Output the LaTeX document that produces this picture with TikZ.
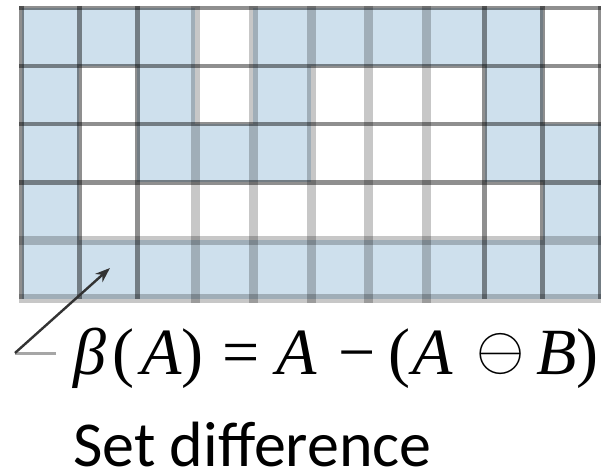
\documentclass[tikz,border=0pt]{standalone}
\usepackage{fontspec}
\usepackage{graphicx}
\usetikzlibrary{arrows.meta}
\newfontfamily\serifit{Liberation Serif}
\newfontfamily\calib{Carlito}
\definecolor{cellblue}{RGB}{206,224,237}
\begin{document}
\begin{tikzpicture}[x=1pt,y=-1pt,
  darkline/.style={line width=4.5pt, draw=black, draw opacity=0.44},
  lightline/.style={line width=9pt, draw=black, draw opacity=0.22},
  bluecell/.style={fill=cellblue},
  leader/.style={line width=2.4pt, draw=black!80},
  foot/.style={line width=3pt, draw=black!35}]
\useasboundingbox (0,0) rectangle (601,473);
\fill[white] (0,0) rectangle (601,473);
% blue cells (row / columns)
\foreach \r/\cols in {0/{0,1,2,4,5,6,7,8},1/{0,2,4,8},2/{0,2,3,4,8,9},3/{0,9},4/{0,1,2,3,4,5,6,7,8,9}}
  \foreach \c in \cols
    \fill[bluecell] ({21.5+57.9*\c},{8+58.1*\r}) rectangle ({21.5+57.9*(\c+1)},{8+58.1*(\r+1)});
% grid lines
\foreach \i in {3,4,5,6,7}
  \draw[lightline] ({21.5+57.9*\i},6) -- ({21.5+57.9*\i},303);
\foreach \i in {0,1,2,8,9,10}
  \draw[darkline] ({21.5+57.9*\i},6) -- ({21.5+57.9*\i},298.5);
\foreach \j in {4,5}
  \draw[lightline] (19,{8+58.1*\j}) -- (603,{8+58.1*\j});
\foreach \j in {0,1,2,3}
  \draw[darkline] (19,{8+58.1*\j}) -- (603,{8+58.1*\j});
% leader arrow
\coordinate (footend) at (56,353);
\coordinate (corner) at (15,353);
\coordinate (tip) at (110,268);
\draw[foot] (footend) -- (corner);
\draw[leader, -{Stealth[length=15pt,width=11pt]}] (corner) -- (tip);
% texts
\node[anchor=base west, inner sep=0, font=\serifit\fontsize{66}{66}\selectfont] (formula) at (73,374)
  {{\itshape β}\hspace{6pt}(\hspace{7pt}{\itshape A}\hspace{0pt})\hspace{19pt}=\hspace{17pt}{\itshape A}\hspace{22pt}−\hspace{12pt}(\hspace{2pt}{\itshape A}\hspace{24pt}\raisebox{5pt}{\scalebox{6.2}{\fontsize{10}{12}\selectfont$\ominus$}}\hspace{12pt}{\itshape B})};
\node[anchor=base west, inner sep=0, text depth=0pt, font=\calib\fontsize{64}{64}\selectfont] (caption) at (73,466) {Set difference};
\end{tikzpicture}
\end{document}
